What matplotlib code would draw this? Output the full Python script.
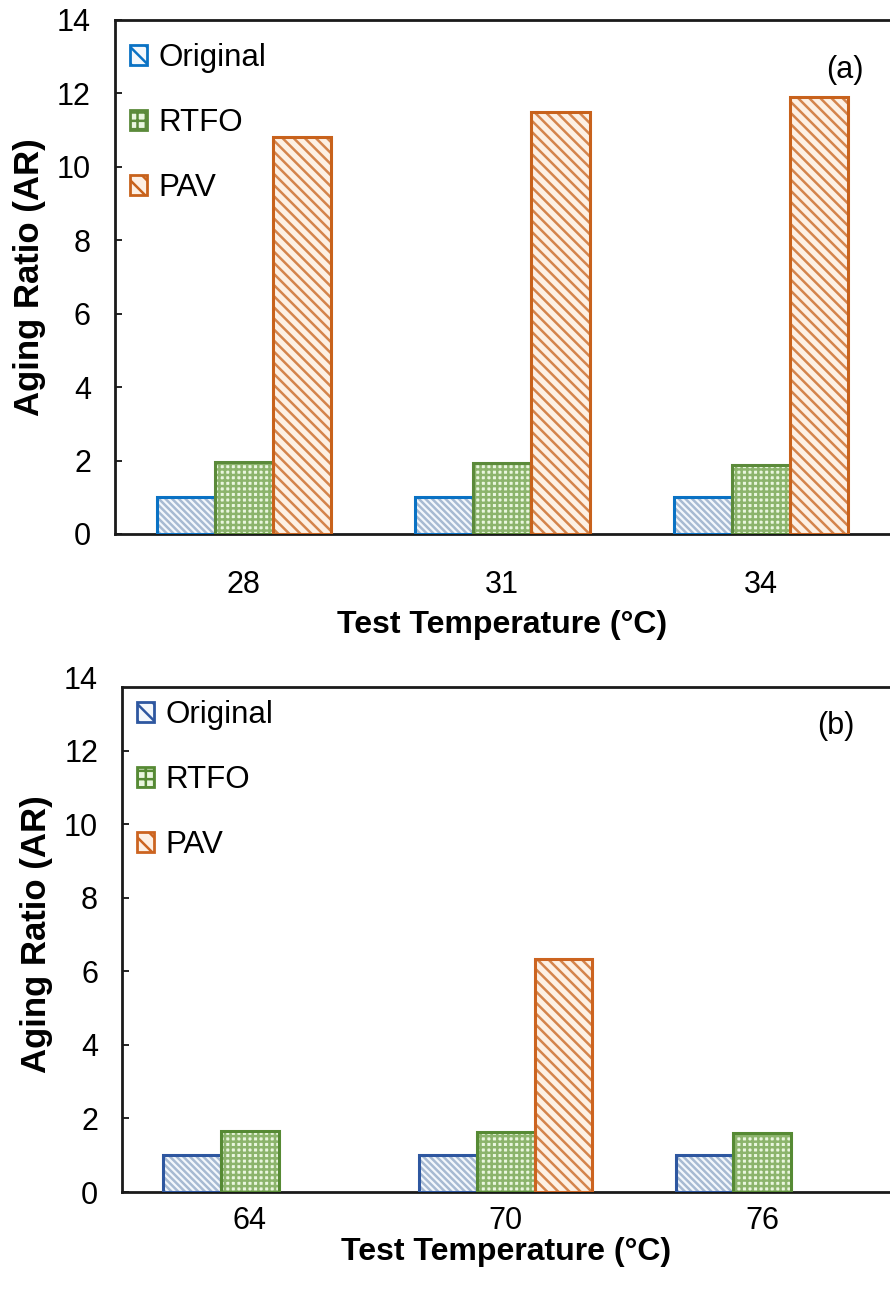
import numpy as np
import matplotlib
matplotlib.use("Agg")
import matplotlib.pyplot as plt
from matplotlib.patches import Patch

plt.rcParams['font.family'] = ['Liberation Sans', 'DejaVu Sans']
plt.rcParams['hatch.linewidth'] = 1.8

series = ['Original', 'RTFO', 'PAV']

# panel (a): intermediate temperatures
temps_a = ['28', '31', '34']
original_a = [1.0, 1.0, 1.0]
rtfo_a = [1.95, 1.92, 1.89]
pav_a = [10.82, 11.5, 11.9]

# panel (b): high temperatures (PAV only tested at 70)
temps_b = ['64', '70', '76']
original_b = [1.0, 1.0, 1.0]
rtfo_b = [1.66, 1.63, 1.60]
pav_b = [np.nan, 6.33, np.nan]

# face, hatch colour, hatch pattern per series
styles = {
    'Original': dict(face='#F4F8FC', hatch_col='#A7BAD2', hatch='\\' * 5),
    'RTFO': dict(face='#EAF6DF', hatch_col='#8CB46C', hatch='+++'),
    'PAV': dict(face='#FDF0E4', hatch_col='#D4844C', hatch='\\' * 3),
}
edges_a = {'Original': '#0A72C4', 'RTFO': '#5B8A3A', 'PAV': '#C8621C'}
edges_b = {'Original': '#2E57A0', 'RTFO': '#568A34', 'PAV': '#CC6420'}


def draw_panel(ax, cats, values, edges, tag, tag_xy, top_frame, tick_pad, label_pad):
    x = np.arange(len(cats))
    width = 0.225
    offsets = [-width, 0, width]
    handles = []
    for name, vals, off in zip(series, values, offsets):
        st = styles[name]
        vals = np.asarray(vals, dtype=float)
        # hatched fill first, outline drawn on top
        ax.bar(x + off, vals, width, color=st['face'], edgecolor=st['hatch_col'],
               hatch=st['hatch'], linewidth=0, zorder=2)
        ax.bar(x + off, vals, width, fill=False, edgecolor=edges[name],
               linewidth=2.2, zorder=3)
        handles.append(Patch(facecolor=st['face'], edgecolor=edges[name],
                             hatch=st['hatch'][:2], linewidth=2, label=name))

    ax.set_xlim(-0.5, len(cats) - 0.5)
    ax.set_ylim(0, 14)
    ax.set_yticks(np.arange(0, 15, 2))
    ax.set_xticks(x)
    ax.set_xticklabels(cats)
    ax.tick_params(axis='y', direction='in', length=5, width=1.2, labelsize=22, pad=17)
    ax.tick_params(axis='x', length=0, labelsize=22, pad=tick_pad)
    if top_frame < 14:
        ax.yaxis.get_major_ticks()[-1].tick1line.set_visible(False)
    ax.spines['right'].set_visible(False)
    for s in ['left', 'bottom', 'top']:
        ax.spines[s].set_linewidth(2)
        ax.spines[s].set_color('#1a1a1a')
    ax.spines['top'].set_position(('data', top_frame))
    ax.spines['left'].set_bounds(0, top_frame)
    ax.set_xlabel('Test Temperature (°C)', fontsize=23, fontweight='bold', labelpad=label_pad)
    ax.set_ylabel('Aging Ratio (AR)', fontsize=25, fontweight='bold', labelpad=8)
    ax.legend(handles=handles, loc='upper left', frameon=False, fontsize=22.5,
              handlelength=0.55, handleheight=0.6, handletextpad=0.35,
              labelspacing=1.12, borderaxespad=0.1, bbox_to_anchor=(0.0, 0.985))
    ax.text(tag_xy[0], tag_xy[1], tag, transform=ax.transAxes, fontsize=22,
            ha='center', va='center')


fig = plt.figure(figsize=(8.9, 12.96), dpi=100)
ax_a = fig.add_axes([0.1287, 0.588, 0.8713, 0.3966])
ax_b = fig.add_axes([0.1367, 0.0802, 0.8633, 0.3974])

draw_panel(ax_a, temps_a, [original_a, rtfo_a, pav_a], edges_a,
           '(a)', (0.942, 0.903), 14, 26, 7)
draw_panel(ax_b, temps_b, [original_b, rtfo_b, pav_b], edges_b,
           '(b)', (0.930, 0.905), 13.74, 10, 1)

fig.savefig('out.png', dpi=100)
